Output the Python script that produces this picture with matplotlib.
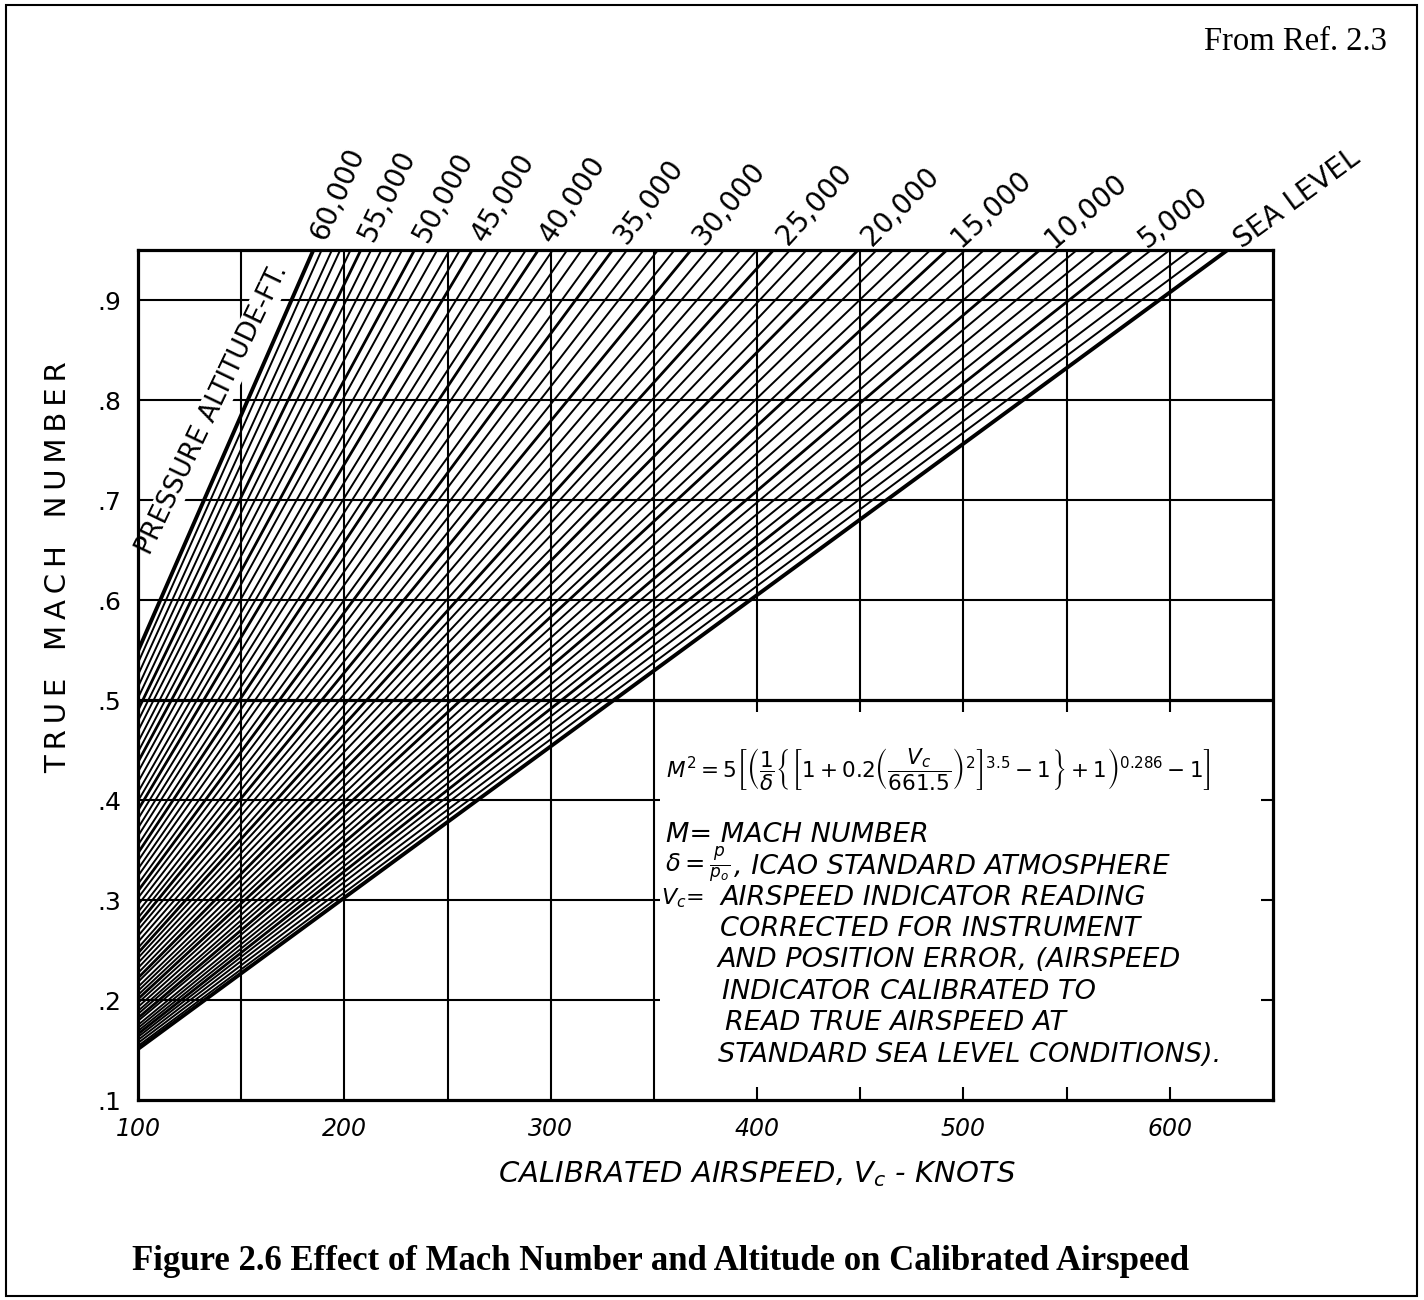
import math
import matplotlib.pyplot as plt
import matplotlib.transforms as mtransforms
from matplotlib.patches import Rectangle

# pressure altitude of each line (ft): one line every 1000 ft
altitudes_ft = list(range(0, 61000, 1000))
# true Mach number where each line meets Vc = 100 kt (left edge)
mach_at_100kt = [0.151, 0.154, 0.157, 0.160, 0.163, 0.166, 0.169, 0.172, 0.175, 0.179,
                 0.182, 0.186, 0.189, 0.193, 0.197, 0.201, 0.205, 0.209, 0.213, 0.218,
                 0.222, 0.227, 0.232, 0.237, 0.242, 0.247, 0.252, 0.258, 0.264, 0.270,
                 0.276, 0.282, 0.288, 0.295, 0.302, 0.309, 0.316, 0.324, 0.331, 0.339,
                 0.347, 0.355, 0.364, 0.372, 0.381, 0.390, 0.399, 0.408, 0.418, 0.428,
                 0.438, 0.448, 0.458, 0.469, 0.479, 0.490, 0.502, 0.513, 0.525, 0.537,
                 0.549]
# calibrated airspeed (kt) where each line meets the top of the chart, M = .95
vc_at_top = [628, 619, 610, 600, 591, 582, 573, 564, 555, 546,
             537, 528, 519, 510, 501, 492, 484, 475, 466, 458,
             449, 441, 432, 424, 416, 408, 400, 392, 384, 376,
             368, 360, 352, 345, 337, 330, 323, 315, 308, 301,
             294, 288, 281, 275, 269, 262, 256, 251, 245, 239,
             234, 228, 223, 218, 213, 208, 203, 198, 194, 189,
             185]
mach_top = 0.95

label_altitudes = [0, 5000, 10000, 15000, 20000, 25000, 30000,
                   35000, 40000, 45000, 50000, 55000, 60000]
label_texts = ['SEA LEVEL', '5,000', '10,000', '15,000', '20,000', '25,000', '30,000',
               '35,000', '40,000', '45,000', '50,000', '55,000', '60,000']

x_ticks = [100, 200, 300, 400, 500, 600]
x_ticklabels = ['100', '200', '300', '400', '500', '600']
y_ticks = [0.1, 0.2, 0.3, 0.4, 0.5, 0.6, 0.7, 0.8, 0.9]
y_ticklabels = ['.1', '.2', '.3', '.4', '.5', '.6', '.7', '.8', '.9']

plt.rcParams['font.family'] = ['DejaVu Sans']
plt.rcParams['mathtext.fontset'] = 'dejavusans'

fig = plt.figure(figsize=(14.24, 13), dpi=100)
ax = fig.add_axes([138 / 1424, 1 - 1100 / 1300, 1135 / 1424, 850 / 1300])
ax.set_xlim(100, 650)
ax.set_ylim(0.1, mach_top)

# grid, with the lower right panel left open for the formula
ink = 'black'
glw = 1.5
ax.vlines([150, 200, 250, 300, 350], 0.1, mach_top, color=ink, lw=glw)
ax.vlines([400, 450, 500, 550, 600], 0.5, mach_top, color=ink, lw=glw)
ax.hlines([0.6, 0.7, 0.8, 0.9], 100, 650, color=ink, lw=glw)
ax.hlines([0.2, 0.3, 0.4], 100, 353, color=ink, lw=glw)
ax.hlines([0.2, 0.3, 0.4], 644, 650, color=ink, lw=glw)
ax.vlines([400, 450, 500, 550, 600], 0.1, 0.113, color=ink, lw=glw)
ax.vlines([400, 450, 500, 550, 600], 0.488, 0.5, color=ink, lw=glw)
ax.hlines(0.5, 100, 650, color=ink, lw=2.3)

# altitude lines
for alt, m0, v1 in zip(altitudes_ft, mach_at_100kt, vc_at_top):
    if alt in (0, 60000):
        lw = 2.8
    elif alt % 5000 == 0:
        lw = 2.0
    else:
        lw = 1.4
    ax.plot([100, v1], [m0, mach_top], color=ink, lw=lw, solid_capstyle='butt', zorder=3)

# altitude labels along the extension of each labelled line
for alt, text in zip(label_altitudes, label_texts):
    i = altitudes_ft.index(alt)
    p0 = ax.transData.transform((100, mach_at_100kt[i]))
    p1 = ax.transData.transform((vc_at_top[i], mach_top))
    ang = math.atan2(p1[1] - p0[1], p1[0] - p0[0])
    tr = mtransforms.offset_copy(ax.transData, fig=fig, x=12 * math.cos(ang),
                                 y=12 * math.sin(ang), units='dots')
    ax.text(vc_at_top[i], mach_top, text, transform=tr, rotation=math.degrees(ang),
            rotation_mode='anchor', ha='left', va='center', fontsize=20,
            clip_on=False)

# label along the 60,000 ft boundary
p0 = ax.transData.transform((100, mach_at_100kt[-1]))
p1 = ax.transData.transform((vc_at_top[-1], mach_top))
ang60 = math.degrees(math.atan2(p1[1] - p0[1], p1[0] - p0[0]))
ax.text(136, 0.79, 'PRESSURE ALTITUDE-FT.', rotation=ang60 - 2, rotation_mode='anchor',
        ha='center', va='center', fontsize=19, zorder=2,
        bbox=dict(facecolor='white', edgecolor='none', pad=1))

# formula panel
formula = (r'$M^2 = 5\left[\left(\dfrac{1}{\delta}\left\{\left[1+0.2\left(\dfrac{V_c}{661.5}'
           r'\right)^2\right]^{3.5}-1\right\}+1\right)^{0.286}-1\right]$')
ax.text(356, 0.43, formula, ha='left', va='center', fontsize=15.5)
defs = [
    (356, 0.365, 'M= MACH NUMBER'),
    (389, 0.333, ', ICAO STANDARD ATMOSPHERE'),
    (382, 0.302, 'AIRSPEED INDICATOR READING'),
    (382, 0.271, 'CORRECTED FOR INSTRUMENT'),
    (381, 0.240, 'AND POSITION ERROR, (AIRSPEED'),
    (383, 0.208, 'INDICATOR CALIBRATED TO'),
    (384.5, 0.177, 'READ TRUE AIRSPEED AT'),
    (381, 0.145, 'STANDARD SEA LEVEL CONDITIONS).'),
]
for x, y, s in defs:
    ax.text(x, y, s, ha='left', va='center', fontsize=19.5, fontstyle='italic')
ax.text(355.5, 0.335, r'$\delta = \frac{p}{p_o}$', ha='left', va='center', fontsize=17.5)
ax.text(353.5, 0.302, r'$V_c$=', ha='left', va='center', fontsize=16, fontstyle='italic')

# axes
for sp in ax.spines.values():
    sp.set_linewidth(2.3)
ax.set_xticks(x_ticks)
ax.set_xticklabels(x_ticklabels, fontsize=17, fontstyle='italic')
ax.set_yticks(y_ticks)
ax.set_yticklabels(y_ticklabels, fontsize=18)
ax.tick_params(length=0, pad=12)
ax.set_xlabel(r'CALIBRATED AIRSPEED, $V_c$ - KNOTS', fontsize=21, fontstyle='italic')
ax.xaxis.set_label_coords(0.545, -0.07)
ax.set_ylabel('\u2009'.join('TRUE') + '   ' + '\u2009'.join('MACH') + '   '
              + '\u2009'.join('NUMBER'), fontsize=21)
ax.yaxis.set_label_coords(-0.058, 0.627)

fig.text(1387 / 1424, 1 - 42 / 1300, 'From Ref. 2.3', ha='right', va='center',
         fontsize=23.5, family='Liberation Serif')
fig.text(660 / 1424, 1 - 1262 / 1300,
         'Figure 2.6 Effect of Mach Number and Altitude on Calibrated Airspeed',
         ha='center', va='center', fontsize=25, family='Liberation Serif',
         fontweight='bold')
fig.add_artist(Rectangle((0.004, 0.003), 0.991, 0.993, transform=fig.transFigure,
                         fill=False, lw=1.5, edgecolor=ink))

fig.savefig('out.png', dpi=100)
